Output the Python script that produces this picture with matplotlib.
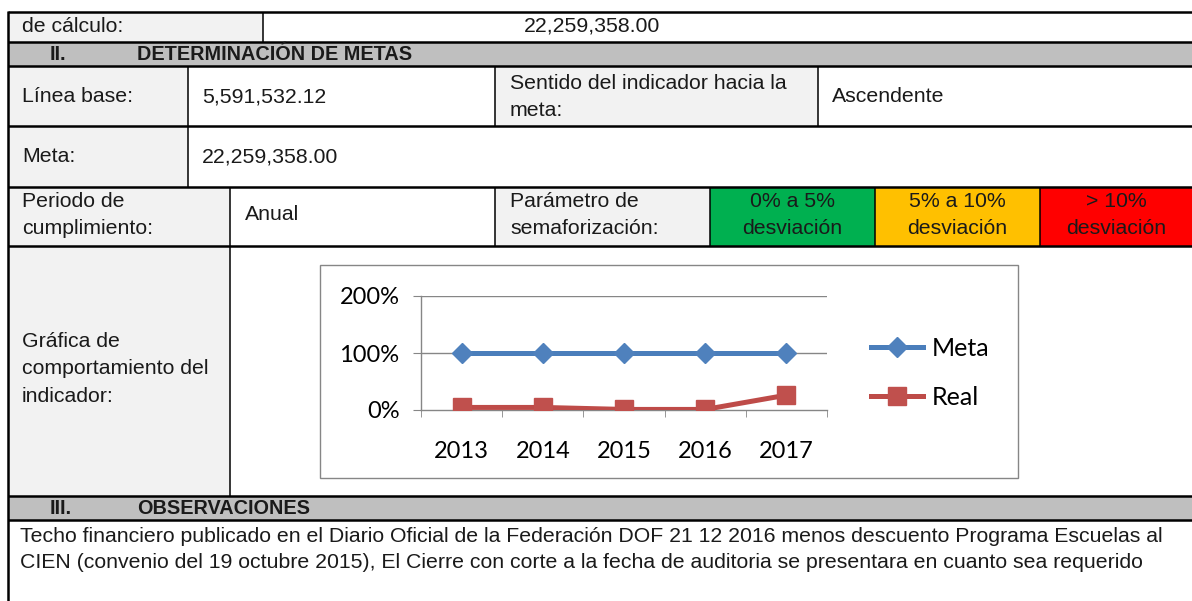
import matplotlib
matplotlib.use("Agg")
import matplotlib.pyplot as plt
from matplotlib.patches import Rectangle

W, H = 1192, 601

# chart data
years = ["2013", "2014", "2015", "2016", "2017"]
meta = [1.0, 1.0, 1.0, 1.0, 1.0]
real = [0.045, 0.045, 0.01, 0.01, 0.26]
y_ticks = [0, 1, 2]
y_tick_labels = ["0%", "100%", "200%"]

# table texts
valor_calculo = "22,259,358.00"
linea_base = "5,591,532.12"
meta_valor = "22,259,358.00"
sentido = "Ascendente"
periodo = "Anual"
semaforo_labels = ["0% a 5%\ndesviación", "5% a 10%\ndesviación", "> 10%\ndesviación"]
semaforo_colors = ["#00b050", "#ffc000", "#ff0000"]
observaciones = [
    "Techo financiero publicado en el Diario Oficial de la Federación DOF 21 12 2016 menos descuento Programa Escuelas al",
    "CIEN (convenio del 19 octubre 2015), El Cierre con corte a la fecha de auditoria se presentara en cuanto sea requerido",
]

plt.rcParams["font.family"] = ["Liberation Sans", "DejaVu Sans"]
GRAY = "#f2f2f2"
HEAD = "#bfbfbf"
TXT = "#1a1a1a"
FS = 15.3
HFS = 14.3

fig = plt.figure(figsize=(W / 100, H / 100), dpi=100)
ax = fig.add_axes([0, 0, 1, 1])
ax.set_xlim(0, W)
ax.set_ylim(H, 0)
ax.axis("off")


def cell(x0, y0, x1, y1, color):
    ax.add_patch(Rectangle((x0, y0), x1 - x0, y1 - y0, facecolor=color, edgecolor="none", zorder=1))


def hline(y, x0=8, x1=W + 5, lw=1.8):
    ax.plot([x0, x1], [y, y], color="black", lw=lw, zorder=3, solid_capstyle="butt")


def vline(x, y0, y1, lw=1.1):
    ax.plot([x, x], [y0, y1], color="black", lw=lw, zorder=3, solid_capstyle="butt")


def label(x, y, s, ha="left", **kw):
    ax.text(x, y, s, ha=ha, va="center", fontsize=kw.pop("fontsize", FS), color=TXT, zorder=4,
            linespacing=1.55, **kw)


# row boundaries
r = [12, 42, 66, 126, 187, 246, 496, 520, H + 5]

# backgrounds
cell(8, r[0], 263, r[1], GRAY)
cell(8, r[1], W, r[2], HEAD)
cell(8, r[2], 188, r[3], GRAY)
cell(495, r[2], 818, r[3], GRAY)
cell(8, r[3], 188, r[4], GRAY)
cell(8, r[4], 230, r[5], GRAY)
cell(495, r[4], 710, r[5], GRAY)
sem_x = [710, 875, 1040, W]
for i, c in enumerate(semaforo_colors):
    cell(sem_x[i], r[4], sem_x[i + 1], r[5], c)
cell(8, r[5], 230, r[6], GRAY)
cell(8, r[6], W, r[7], HEAD)

# grid lines
for y in r[:-1]:
    hline(y)
vline(8, r[0] - 1, H + 5, lw=1.8)
vline(263, r[0], r[1])
vline(188, r[2], r[4])
vline(495, r[2], r[3])
vline(818, r[2], r[3])
vline(230, r[4], r[6])
vline(495, r[4], r[5])
for x in sem_x[:-1]:
    vline(x, r[4], r[5])

# texts
label(22, 26, "de cálculo:")
label(524, 26, valor_calculo)
label(50, 54, "II.", fontweight="bold", fontsize=HFS)
label(137, 54, "DETERMINACIÓN DE METAS", fontweight="bold", fontsize=HFS)
label(22, 97, "Línea base:")
label(202, 97, linea_base)
label(510, 97, "Sentido del indicador hacia la\nmeta:")
label(832, 97, sentido)
label(22, 157, "Meta:")
label(202, 157, meta_valor)
label(22, 215, "Periodo de\ncumplimiento:")
label(245, 215, periodo)
label(510, 215, "Parámetro de\nsemaforización:")
for i, s in enumerate(semaforo_labels):
    label((sem_x[i] + min(sem_x[i + 1], 1196)) / 2, 215, s, ha="center")
label(22, 369, "Gráfica de\ncomportamiento del\nindicador:")
label(50, 508, "III.", fontweight="bold", fontsize=HFS)
label(137, 508, "OBSERVACIONES", fontweight="bold", fontsize=HFS)
label(20, 537, observaciones[0])
label(20, 563, observaciones[1])

# chart frame
ax.add_patch(Rectangle((320, 265), 698, 213, facecolor="white", edgecolor="#868686", lw=1.0, zorder=2))

# chart axes
px0, px1 = 421, 827
py0, py1 = 296, 410
cax = fig.add_axes([px0 / W, 1 - py1 / H, (px1 - px0) / W, (py1 - py0) / H])
cax.patch.set_alpha(0)
xs = list(range(len(years)))
cax.plot(xs, meta, color="#4a7ebb", lw=3.6, marker="D", ms=9.8, mfc="#4f81bd", mec="#4f81bd",
         label="Meta", zorder=3)
cax.plot(xs, real, color="#be4b48", lw=3.6, marker="s", ms=13.5, mfc="#c0504d", mec="#c0504d",
         label="Real", zorder=3)
cax.set_xlim(-0.5, len(years) - 0.5)
cax.set_ylim(0, 2)
cax.set_yticks(y_ticks)
cax.set_yticklabels(y_tick_labels)
cax.set_xticks(xs)
cax.set_xticklabels(years)
cax.set_xticks([i - 0.5 for i in range(len(years) + 1)], minor=True)
for y in y_ticks[1:]:
    cax.axhline(y, color="#868686", lw=1.0, zorder=1)
for s in ["top", "right"]:
    cax.spines[s].set_visible(False)
for s in ["left", "bottom"]:
    cax.spines[s].set_color("#868686")
    cax.spines[s].set_linewidth(1.0)
cax.tick_params(axis="y", direction="out", length=5.5, color="#868686", pad=10,
                labelsize=17, labelcolor="black")
cax.tick_params(axis="x", which="major", length=0, pad=22, labelsize=17, labelcolor="black")
cax.tick_params(axis="x", which="minor", direction="out", length=5, color="#868686")
for t in cax.get_xticklabels() + cax.get_yticklabels():
    t.set_fontfamily(["Lato", "DejaVu Sans"])

leg = cax.legend(loc="center left", bbox_to_anchor=(858 / W, 1 - 373 / H), bbox_transform=fig.transFigure,
                 frameon=False, handlelength=2.1, handletextpad=0.35, labelspacing=1.05,
                 borderpad=0, prop={"family": ["Lato", "DejaVu Sans"], "size": 18})

fig.savefig("out.png", dpi=100)
